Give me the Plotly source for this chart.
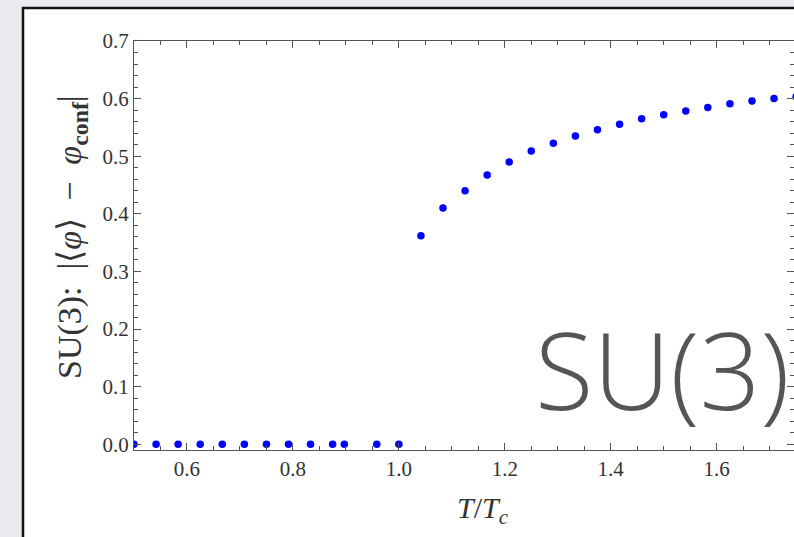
import plotly.graph_objects as go

# Polyakov-loop order parameter vs temperature for SU(3)
t_conf = [0.5, 0.5417, 0.5833, 0.625, 0.6667, 0.7083, 0.75, 0.7917, 0.8333,
          0.875, 0.897, 0.9583, 1.0]
phi_conf = [0.0] * len(t_conf)

t_deconf = [1.0417, 1.0833, 1.125, 1.1667, 1.2083, 1.25, 1.2917, 1.3333,
            1.375, 1.4167, 1.4583, 1.5, 1.5417, 1.5833, 1.625, 1.6667,
            1.7083, 1.75]
phi_deconf = [0.362, 0.410, 0.440, 0.4675, 0.490, 0.509, 0.5225, 0.535,
              0.546, 0.5555, 0.565, 0.572, 0.5785, 0.5845, 0.591, 0.596,
              0.600, 0.6035]

x_ticks = [0.6, 0.8, 1.0, 1.2, 1.4, 1.6]
y_ticks = [0.0, 0.1, 0.2, 0.3, 0.4, 0.5, 0.6, 0.7]

W, H = 794, 537
ML, MR, MT, MB = 134, 0, 41, 87

fig = go.Figure()
fig.add_trace(go.Scatter(
    x=t_conf + t_deconf, y=phi_conf + phi_deconf, mode="markers",
    marker=dict(color="#0000ff", size=7.5, line=dict(width=0)),
    showlegend=False,
))

axis_common = dict(
    showline=True, linecolor="#555555", linewidth=1.3, mirror="allticks",
    ticks="inside", ticklen=7, tickwidth=1.1, tickcolor="#555555",
    showgrid=False, zeroline=False, tickformat=".1f",
    tickfont=dict(family="Liberation Serif", size=21, color="#333333"),
)

fig.update_xaxes(
    range=[0.5, 1.746], tickvals=x_ticks,
    minor=dict(ticks="inside", ticklen=4, tickwidth=1, tickcolor="#555555", dtick=0.05),
    **axis_common,
)
fig.update_yaxes(
    range=[-0.01, 0.7], tickvals=y_ticks,
    minor=dict(ticks="inside", ticklen=4, tickwidth=1, tickcolor="#555555", dtick=0.02),
    **axis_common,
)

pw, ph = W - ML - MR, H - MT - MB

# axis titles
fig.add_annotation(
    text="<i>T</i>/<i>T</i><sub><i>c</i></sub>", xref="paper", yref="paper",
    x=(483 - ML) / pw, y=1 - (510 - MT) / ph, xanchor="center", yanchor="middle",
    showarrow=False,
    font=dict(family="Liberation Serif", size=30, color="#333333"),
)
fig.add_annotation(
    text="SU(3):  |⟨<i>φ</i>⟩  −  <i>φ</i><sub><b>conf</b></sub>|",
    xref="paper", yref="paper", textangle=-90,
    x=(72 - ML) / pw, y=1 - (237 - MT) / ph, xanchor="center", yanchor="middle",
    showarrow=False,
    font=dict(family="Liberation Serif", size=34, color="#333333"),
)

# slide panel behind the chart
fig.add_shape(type="rect", xref="paper", yref="paper", layer="below",
              x0=(23 - ML) / pw, x1=(W + 20 - ML) / pw,
              y0=1 - (H + 20 - MT) / ph, y1=1 - (8 - MT) / ph,
              fillcolor="white", line=dict(color="#111111", width=2.5))

fig.add_annotation(
    text="SU(3)", xref="paper", yref="paper",
    x=(792 - ML) / pw, y=1 - (368 - MT) / ph, xanchor="right", yanchor="middle",
    showarrow=False,
    font=dict(family="Open Sans", size=107, color="#555555", weight=300),
)

fig.update_layout(
    width=W, height=H, margin=dict(l=ML, r=MR, t=MT, b=MB),
    paper_bgcolor="#e9ebef", plot_bgcolor="white",
)

fig.write_html("out.html")
